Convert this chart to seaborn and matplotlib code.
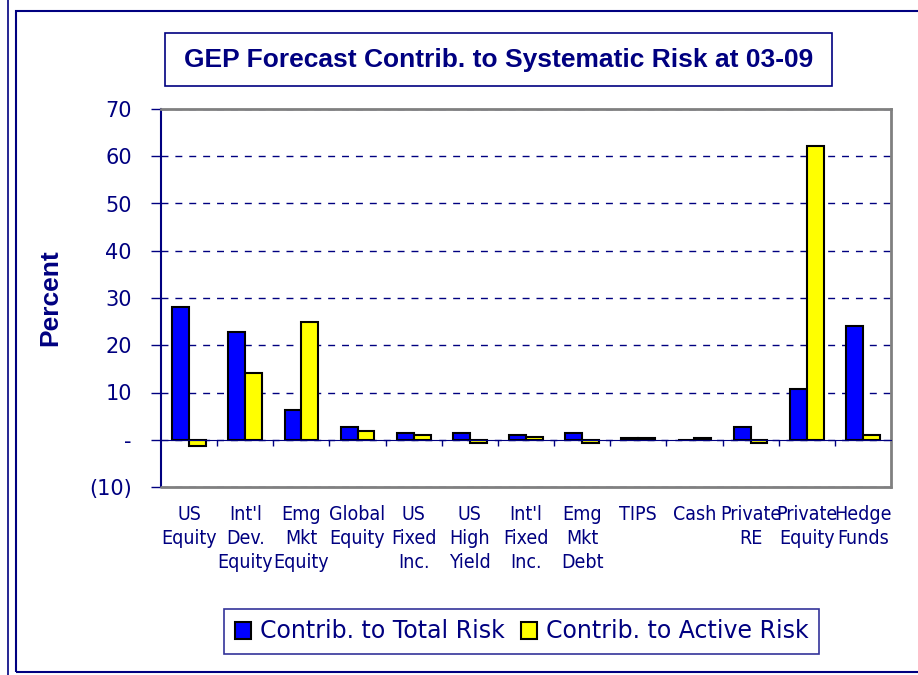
import matplotlib
matplotlib.use("Agg")
from matplotlib import pyplot as plt
from matplotlib import font_manager as fm
from matplotlib.patches import Rectangle
from matplotlib.lines import Line2D
from matplotlib.ticker import FuncFormatter
import pandas as pd
import seaborn as sns

categories = ["US\nEquity", "Int'l\nDev.\nEquity", "Emg\nMkt\nEquity", "Global\nEquity",
              "US\nFixed\nInc.", "US\nHigh\nYield", "Int'l\nFixed\nInc.", "Emg\nMkt\nDebt",
              "TIPS", "Cash", "Private\nRE", "Private\nEquity", "Hedge\nFunds"]
total_risk = [28.0, 22.7, 6.2, 2.7, 1.4, 1.4, 1.0, 1.4, 0.4, 0.0, 2.7, 10.7, 24.0]
active_risk = [-1.3, 14.2, 24.9, 1.9, 0.9, -0.6, 0.5, -0.6, 0.4, 0.4, -0.6, 62.2, 0.9]
series_names = ["Contrib. to Total Risk", "Contrib. to Active Risk"]
y_ticks = [-10, 0, 10, 20, 30, 40, 50, 60, 70]

df = pd.DataFrame({
    "category": categories * 2,
    "series": [series_names[0]] * len(categories) + [series_names[1]] * len(categories),
    "value": total_risk + active_risk,
})

navy = "#000080"
sns.set_style("white")
plt.rcParams["font.family"] = ["DejaVu Sans"]

names = {f.name for f in fm.fontManager.ttflist}
if "Liberation Sans Narrow" in names:
    narrow = dict(family="Liberation Sans Narrow")
else:
    narrow = dict(family="DejaVu Sans", stretch="condensed")
bold_font = "Liberation Sans" if "Liberation Sans" in names else "DejaVu Sans"

fig = plt.figure(figsize=(9.18, 6.75), dpi=100)
ax = fig.add_axes([161 / 918, 1 - 487 / 675, 730 / 918, 378 / 675])

sns.barplot(data=df, x="category", y="value", hue="series",
            palette=["#0000FF", "#FFFF00"], saturation=1, edgecolor="black",
            linewidth=1.5, width=0.6, gap=0, errorbar=None, ax=ax)
handles, labels = ax.get_legend_handles_labels()
ax.get_legend().remove()

ax.set_ylim(-10, 70)
ax.set_xlim(-0.5, len(categories) - 0.5)
ax.set_yticks(y_ticks)
ax.yaxis.set_major_formatter(FuncFormatter(
    lambda v, p: "-" if v == 0 else ("(%d)" % abs(v) if v < 0 else "%d" % v)))
ax.tick_params(axis="y", direction="out", length=7, width=1, color=navy,
               labelcolor=navy, labelsize=15, pad=14, left=True)
ax.set_axisbelow(True)
ax.yaxis.grid(True, color=navy, linestyle=(0, (5, 5)), linewidth=1)
ax.xaxis.grid(False)
ax.set_xlabel("")
ax.set_ylabel("")

# category axis sits on the zero line
ax.spines["bottom"].set_position(("data", 0))
ax.spines["bottom"].set_color(navy)
ax.spines["left"].set_color(navy)
ax.spines["left"].set_linewidth(1.5)
for s in ["top", "right"]:
    ax.spines[s].set_color("#808080")
    ax.spines[s].set_linewidth(2)
ax.axhline(-10, color="#808080", linewidth=2, clip_on=False, zorder=5)

ax.set_xticks(range(len(categories)))
ax.set_xticks([i + 0.5 for i in range(len(categories) - 1)], minor=True)
ax.tick_params(axis="x", which="major", length=0, pad=47, labelcolor=navy)
ax.tick_params(axis="x", which="minor", direction="out", length=4, width=1,
               color=navy, bottom=True)
for lab in ax.get_xticklabels():
    lab.set_fontsize(14)
    lab.set(**narrow)
    lab.set_multialignment("center")
    lab.set_linespacing(1.32)

fig.text(50 / 918, 1 - 298 / 675, "Percent", rotation=90, ha="center", va="center",
         fontsize=19, fontweight="bold", color=navy, family=bold_font)

# title box
fig.patches.append(Rectangle((165 / 918, 1 - 86 / 675), 667 / 918, 53 / 675,
                             transform=fig.transFigure, fill=False,
                             edgecolor=navy, linewidth=1.2))
fig.text(499 / 918, 1 - 60 / 675, "GEP Forecast Contrib. to Systematic Risk at 03-09",
         ha="center", va="center", fontsize=19, fontweight="bold", color=navy,
         family=bold_font)

# outer chart frame
fig.patches.append(Rectangle((16 / 918, 3 / 675), 1.0, 661 / 675,
                             transform=fig.transFigure, fill=False,
                             edgecolor=navy, linewidth=1.5))
fig.lines.append(Line2D([8 / 918, 8 / 918], [0, 1], transform=fig.transFigure,
                        color=navy, linewidth=1.2))

leg = fig.legend(handles, labels, loc="center", ncol=2,
                 bbox_to_anchor=(521.5 / 918, 43.5 / 675), fontsize=17,
                 labelcolor=navy, frameon=True, fancybox=False, edgecolor=navy,
                 handlelength=0.7, handleheight=0.7, handletextpad=0.35,
                 columnspacing=0.7, borderpad=0.45, borderaxespad=0)
leg.get_frame().set_linewidth(1.2)
leg._legend_box.sep = 4

fig.savefig("out.png", dpi=100)
